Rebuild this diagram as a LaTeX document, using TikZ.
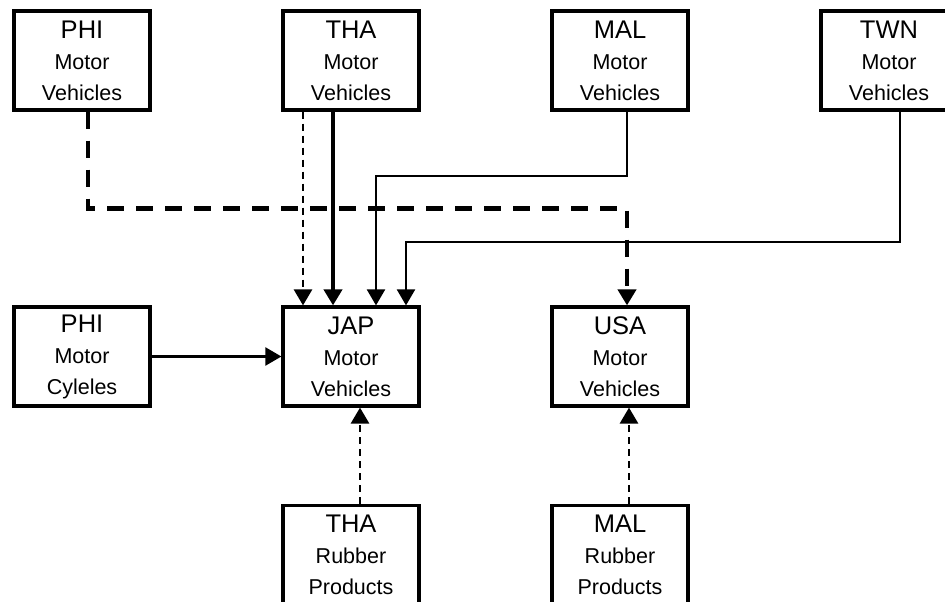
\documentclass[tikz,border=0pt]{standalone}
\usepackage{fontspec}
\setmainfont{Liberation Sans}
\usetikzlibrary{arrows.meta}

\newcommand{\cty}[1]{{\fontsize{25.5}{32}\selectfont #1}}

\begin{document}
\begin{tikzpicture}[x=1pt,y=-1pt,
  box/.style={draw,line width=3.2pt,minimum width=136pt,minimum height=99pt,inner sep=0pt,align=center,font=\fontsize{21.5}{31}\selectfont},
  tip/.style={-{Triangle[width=18pt,length=16pt]}},
  thin/.style={tip,line width=2.2pt},
  heavy/.style={tip,line width=4.2pt},
  bigdash/.style={tip,line width=4.8pt,dash pattern=on 17pt off 12pt},
  smalldash/.style={tip,line width=2.8pt,dash pattern=on 7pt off 5pt}]
\useasboundingbox (0,0) rectangle (945,602);
\clip (0,0) rectangle (945,602);
\node (PV) at (82,60.5) [box] {\cty{PHI}\\Motor\\Vehicles};
\node (TV) at (351,60.5) [box] {\cty{THA}\\Motor\\Vehicles};
\node (MV) at (620,60.5) [box] {\cty{MAL}\\Motor\\Vehicles};
\node (WV) at (889,60.5) [box] {\cty{TWN}\\Motor\\Vehicles};
\node (PC) at (82,356.5) [box] {\cty{PHI}\\Motor\\Cyleles};
\node (JV) at (351,356.5) [box] {\cty{JAP}\\Motor\\Vehicles};
\node (UV) at (620,356.5) [box] {\cty{USA}\\Motor\\Vehicles};
\node (TR) at (351,555) [box] {\cty{THA}\\Rubber\\Products};
\node (MR) at (620,555) [box] {\cty{MAL}\\Rubber\\Products};
\draw [bigdash] ([xshift=6pt]PV.south) -- ++(0,97) -| ([xshift=7pt]UV.north);
\draw [smalldash] ([xshift=-48pt]TV.south) -- ([xshift=-48pt]JV.north);
\draw [heavy] ([xshift=-18pt]TV.south) -- ([xshift=-18pt]JV.north);
\draw [thin] ([xshift=7pt]MV.south) -- ++(0,64) -| ([xshift=25pt]JV.north);
\draw [thin] ([xshift=11pt]WV.south) -- ++(0,130) -| ([xshift=55pt]JV.north);
\draw [thin] (PC.east) -- (JV.west);
\draw [smalldash] ([xshift=9pt]TR.north) -- ([xshift=9pt]JV.south);
\draw [smalldash] ([xshift=9pt]MR.north) -- ([xshift=9pt]UV.south);
\end{tikzpicture}
\end{document}
